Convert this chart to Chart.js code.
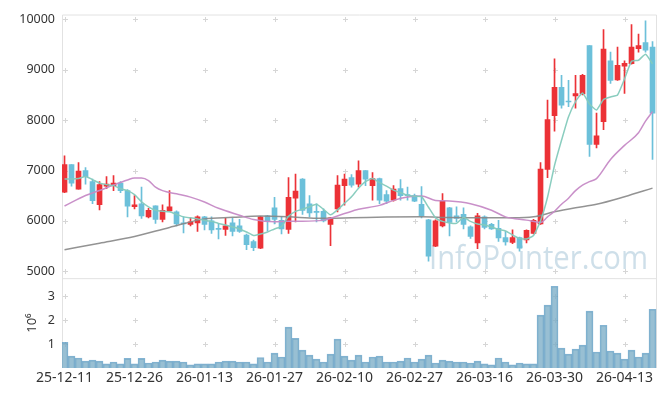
<!DOCTYPE html>
<html>
<head>
<meta charset="utf-8">
<script src="https://cdn.jsdelivr.net/npm/chart.js@4/dist/chart.umd.min.js"></script>
<style>
  html, body { margin: 0; padding: 0; background: #fff; }
  #wrap { width: 665px; height: 396px; }
</style>
</head>
<body>
<div id="wrap"><canvas id="stockChart"></canvas></div>
<script>
// trading days (yy-mm-dd)
const dates = [
  '25-12-11','25-12-12','25-12-15','25-12-16','25-12-17','25-12-18','25-12-19','25-12-22','25-12-23','25-12-24',
  '25-12-26','25-12-29','25-12-30','26-01-02','26-01-05','26-01-06','26-01-07','26-01-08','26-01-09','26-01-12',
  '26-01-13','26-01-14','26-01-15','26-01-16','26-01-19','26-01-20','26-01-21','26-01-22','26-01-23','26-01-26',
  '26-01-27','26-01-28','26-01-29','26-01-30','26-02-02','26-02-03','26-02-04','26-02-05','26-02-06','26-02-09',
  '26-02-10','26-02-11','26-02-12','26-02-13','26-02-19','26-02-20','26-02-23','26-02-24','26-02-25','26-02-26',
  '26-02-27','26-03-03','26-03-04','26-03-05','26-03-06','26-03-09','26-03-10','26-03-11','26-03-12','26-03-13',
  '26-03-16','26-03-17','26-03-18','26-03-19','26-03-20','26-03-23','26-03-24','26-03-25','26-03-26','26-03-27',
  '26-03-30','26-03-31','26-04-01','26-04-02','26-04-03','26-04-06','26-04-07','26-04-08','26-04-09','26-04-10',
  '26-04-13','26-04-14','26-04-15','26-04-16','26-04-17'
];

const opens = [
  6570,7120,6630,7000,6780,6320,6690,6700,6750,6600, 6280,6340,6080,6300,6030,6200,6180,5960,5930,5960,
  6080,6000,5850,5830,5960,5900,5720,5590,5460,6100, 6260,6010,5830,6450,6830,6340,6190,6190,5930,6240,
  6700,6860,6730,7000,6700,6840,6520,6410,6640,6520, 6500,6330,6020,5500,5900,6260,6100,6130,5880,5560,
  6080,5930,5850,5670,5570,5670,5620,5750,5940,7020, 8090,8650,8380,8480,8520,9480,7520,7970,9180,8800,
  9070,9120,9420,9540,9450
];
const highs = [
  7290,7120,7160,7060,6830,6780,6880,6900,6780,6620, 6500,6670,6250,6300,6320,6600,6200,6080,6060,6100,
  6090,6080,5950,6050,6050,6030,5740,5620,6090,6110, 6470,6080,6860,6930,6840,6500,6340,6240,6070,6900,
  6930,6920,7190,7000,6960,6850,6600,6700,6820,6670, 6530,6680,6030,6020,6540,6270,6280,6260,5900,6150,
  6100,5950,6010,5790,5820,5680,5820,6030,7160,8400, 9220,8890,8790,8890,8910,9480,8140,9800,9350,9450,
  9180,9900,9710,9970,9560
];
const lows = [
  6560,6690,6630,6730,6340,6220,6640,6600,6560,6080, 6240,6050,6060,5950,5980,6190,5900,5760,5900,5790,
  5820,5750,5640,5710,5700,5770,5430,5410,5450,5800, 5940,5740,5750,5980,6130,6080,5980,5980,5510,6180,
  6310,6670,6670,6700,6410,6340,6340,6390,6410,6410, 6380,6060,5200,5490,5880,5700,5980,5840,5650,5450,
  5840,5830,5590,5520,5550,5400,5560,5740,5930,6860, 7780,8240,8270,8240,8500,7280,7450,7810,8730,8790,
  8530,9110,9350,9350,7220
];
const closes = [
  7120,6750,6990,6880,6400,6720,6730,6750,6600,6290, 6320,6100,6210,6030,6210,6280,5940,5940,5980,6080,
  5930,5820,5830,5900,5790,5790,5530,5470,6080,6000, 6030,5840,6470,6590,6210,6160,6170,6000,6060,6710,
  6830,6710,7000,6830,6840,6410,6390,6630,6500,6500, 6390,6100,5300,6000,6390,5970,6050,5930,5690,6100,
  5870,5840,5660,5580,5670,5460,5810,6010,7030,8010, 8650,8300,8360,8530,8890,7520,7690,9410,8790,9090,
  9130,9450,9480,9390,8140
];
// volume, unit 10^6 shares
const volumes = [
  1.07,0.50,0.42,0.29,0.33,0.29,0.17,0.25,0.17,0.40, 0.17,0.40,0.21,0.25,0.33,0.29,0.29,0.25,0.13,0.17,
  0.17,0.17,0.25,0.29,0.29,0.25,0.25,0.17,0.44,0.25, 0.62,0.46,1.71,1.24,0.75,0.54,0.37,0.25,0.58,1.21,
  0.50,0.33,0.54,0.25,0.46,0.50,0.25,0.25,0.29,0.42, 0.25,0.37,0.54,0.21,0.33,0.29,0.25,0.25,0.21,0.29,
  0.17,0.13,0.42,0.25,0.13,0.21,0.17,0.17,2.21,2.63, 3.42,0.83,0.58,0.79,0.96,2.38,0.67,1.79,0.71,0.62,
  0.37,0.75,0.46,0.62,2.46
];

// 5-day average, one value per day
const ma5 = [
  6830,6830,6840,6880,6820,6750,6720,6700,6640,6600, 6520,6380,6280,6210,6190,6180,6130,6080,6060,6040,
  6010,5990,5950,5920,5880,5840,5780,5710,5740,5780, 5840,5890,6090,6190,6230,6280,6330,6230,6120,6220,
  6350,6480,6650,6780,6840,6760,6690,6610,6560,6510, 6490,6480,6270,6060,5990,5960,5950,6070,5990,5940,
  5920,5880,5830,5800,5720,5650,5640,5710,6000,6470, 7100,7600,8070,8370,8540,8320,8200,8410,8460,8500,
  8820,9170,9190,9310,9120
];
// 20-day average, read at these days
const ma20Day = [0,3,5,7,9,10,11,12,13,14,16,18,20,22,25,27,30,32,34,37,40,42,45,47,49,51,53,55,58,61,63,66,68,69,70,71,72,73,74,75,76,78,80,82,83,84];
const ma20Val = [6296,6505,6603,6713,6812,6850,6850,6800,6670,6600,6537,6472,6374,6250,6113,6027,5982,5995,5995,6015,6145,6230,6308,6407,6472,6492,6407,6394,6341,6211,6080,6015,5969,6080,6190,6330,6450,6600,6710,6780,6840,7220,7500,7750,7980,8170];
// long average, read at these days
const maLongDay = [0,5,10,15,20,24,28,32,36,41,46,51,55,60,64,67,70,73,76,80,84];
const maLongVal = [5427,5557,5690,5870,6040,6070,6095,6080,6050,6060,6075,6080,6065,6060,6060,6080,6180,6260,6330,6480,6650];

const dayTicks = [0, 10, 20, 30, 40, 50, 60, 70, 80];
const priceTicks = [5000, 6000, 7000, 8000, 9000, 10000];
const volumeTicks = [1, 2, 3];

const UP = '#ec3237';
const DOWN = '#6cc0da';
const FONT = "'Noto Sans', sans-serif";
const candleColor = c => closes[c.dataIndex] >= opens[c.dataIndex] ? UP : DOWN;

// grid crosses, panel frame and watermark, placed with the scales
const panelDecor = {
  id: 'panelDecor',
  beforeDatasetsDraw(chart) {
    const {ctx, scales, chartArea} = chart;
    const x = scales.x, y = scales.y, yv = scales.yv;
    const L = chartArea.left, R = chartArea.right;
    ctx.save();
    ctx.font = "33px 'Open Sans', sans-serif";
    ctx.fillStyle = 'rgba(190,212,226,0.75)';
    ctx.textAlign = 'right';
    ctx.textBaseline = 'alphabetic';
    ctx.fillText('InfoPointer.com', R - 9, y.bottom - 9, 219);

    ctx.strokeStyle = '#e2e2e2';
    ctx.lineWidth = 1;
    ctx.beginPath();
    ctx.rect(L + 0.5, y.top + 0.5, R - L - 1, y.bottom - y.top);
    ctx.moveTo(L + 0.5, yv.top); ctx.lineTo(L + 0.5, yv.bottom);
    ctx.moveTo(R - 0.5, yv.top); ctx.lineTo(R - 0.5, yv.bottom);
    ctx.stroke();

    ctx.strokeStyle = '#d6d6d6';
    ctx.beginPath();
    const s = 2.5;
    dayTicks.forEach(d => {
      const px = Math.round(x.getPixelForValue(d)) + 0.5;
      const rows = priceTicks.map(v => y.getPixelForValue(v))
        .concat(volumeTicks.map(v => yv.getPixelForValue(v)));
      rows.forEach(p => {
        const py = Math.round(p) + 0.5;
        ctx.moveTo(px - s, py); ctx.lineTo(px + s, py);
        ctx.moveTo(px, py - s); ctx.lineTo(px, py + s);
      });
    });
    ctx.stroke();
    ctx.restore();
  }
};

const fitWidth = s => { s.width = 44; };
const noGrid = { display: false, drawTicks: false, tickLength: 0 };

const config = {
  data: {
    datasets: [
      {
        type: 'line', label: 'MA5', xAxisID: 'x', yAxisID: 'y', order: 0,
        data: ma5.map((v, i) => ({x: i, y: v})),
        borderColor: 'rgba(132,202,188,0.95)', borderWidth: 1.5, pointRadius: 0, tension: 0.15
      },
      {
        type: 'line', label: 'MA20', xAxisID: 'x', yAxisID: 'y', order: 0,
        data: ma20Day.map((d, i) => ({x: d, y: ma20Val[i]})),
        borderColor: 'rgba(198,138,198,0.95)', borderWidth: 1.5, pointRadius: 0,
        cubicInterpolationMode: 'monotone'
      },
      {
        type: 'line', label: 'MA long', xAxisID: 'x', yAxisID: 'y', order: 0,
        data: maLongDay.map((d, i) => ({x: d, y: maLongVal[i]})),
        borderColor: 'rgba(135,135,135,0.9)', borderWidth: 1.5, pointRadius: 0,
        cubicInterpolationMode: 'monotone'
      },
      {
        type: 'bar', label: 'wick', xAxisID: 'x', yAxisID: 'y', order: 1, grouped: false,
        data: dates.map((d, i) => ({x: i, y: [lows[i], highs[i]]})),
        backgroundColor: candleColor, barThickness: 1
      },
      {
        type: 'bar', label: 'body', xAxisID: 'x', yAxisID: 'y', order: 1, grouped: false,
        data: dates.map((d, i) => ({x: i, y: [opens[i], closes[i]]})),
        backgroundColor: candleColor, barThickness: 5, minBarLength: 1
      },
      {
        type: 'bar', label: 'volume', xAxisID: 'x', yAxisID: 'yv', order: 2, grouped: false,
        data: volumes.map((v, i) => ({x: i, y: v})),
        backgroundColor: 'rgba(118,170,196,0.75)',
        borderColor: 'rgba(80,148,192,0.7)', borderWidth: 1,
        barPercentage: 1, categoryPercentage: 1
      }
    ]
  },
  options: {
    responsive: true,
    maintainAspectRatio: false,
    animation: false,
    layout: { padding: { left: 18, right: 8, top: 10, bottom: 0 } },
    plugins: { legend: { display: false }, tooltip: { enabled: false } },
    scales: {
      x: {
        type: 'linear', min: -0.36, max: 84.64, offset: false, bounds: 'data',
        grid: noGrid, border: { display: false },
        afterBuildTicks: s => { s.ticks = dayTicks.map(v => ({value: v})); },
        ticks: {
          autoSkip: false, maxRotation: 0, padding: 2, color: '#333',
          font: { family: FONT, size: 14 },
          callback: v => dates[v]
        },
        afterFit: s => { s.height = 28; s.paddingLeft = 0; s.paddingRight = 0; }
      },
      yv: {
        type: 'linear', position: 'left', stack: 'panels', stackWeight: 91,
        min: 0, max: 3.76,
        grid: noGrid, border: { display: false },
        afterBuildTicks: s => { s.ticks = volumeTicks.map(v => ({value: v})); },
        ticks: { padding: 7, color: '#333', font: { family: FONT, size: 12.5 }, callback: v => String(v) },
        title: { display: true, text: '10⁶', color: '#333', font: { family: FONT, size: 13 }, padding: { top: 6, bottom: 0 } },
        afterFit: fitWidth
      },
      y: {
        type: 'linear', position: 'left', stack: 'panels', stackWeight: 267,
        min: 4863, max: 10098,
        grid: noGrid, border: { display: false },
        afterBuildTicks: s => { s.ticks = priceTicks.map(v => ({value: v})); },
        ticks: { padding: 7, color: '#333', font: { family: FONT, size: 12.5 }, callback: v => String(v) },
        afterFit: fitWidth
      }
    }
  },
  plugins: [panelDecor]
};

new Chart(document.getElementById('stockChart'), config);
</script>
</body>
</html>
